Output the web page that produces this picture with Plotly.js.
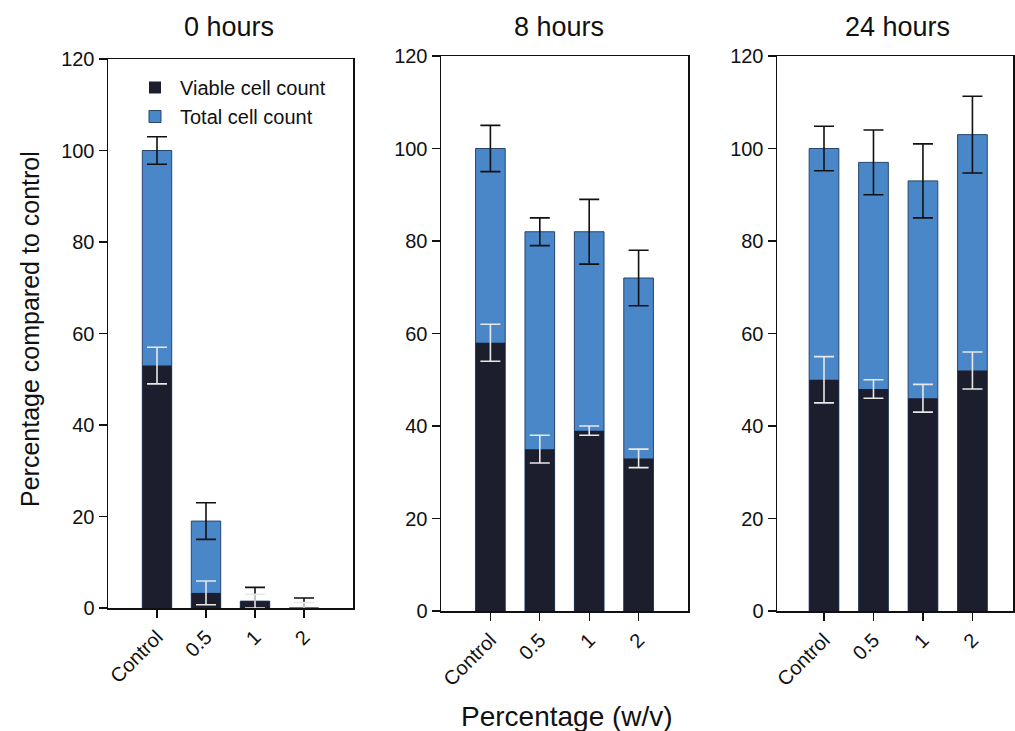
<!DOCTYPE html>
<html>
<head>
<meta charset="utf-8">
<script src="https://cdn.plot.ly/plotly-3.0.1.min.js"></script>
<style>html,body{margin:0;padding:0;background:#fff;}#chart{width:1015px;height:731px;}</style>
</head>
<body>
<div id="chart"></div>
<script>
const categories = ['Control', '0.5', '1', '2'];
const panelTitles = ['0 hours', '8 hours', '24 hours'];

const viable0 = [53, 3.3, 1.5, 0];
const viableErr0 = [4, 2.6, 1.5, 1.2];
const total0 = [100, 19, 1.5, 0];
const totalErr0 = [3, 4, 3, 2.2];

const viable8 = [58, 35, 39, 33];
const viableErr8 = [4, 3, 1, 2];
const total8 = [100, 82, 82, 72];
const totalErr8 = [5, 3, 7, 6];

const viable24 = [50, 48, 46, 52];
const viableErr24 = [5, 2, 3, 4];
const total24 = [100, 97, 93, 103];
const totalErr24 = [4.8, 7, 8, 8.3];

const W = 1015, H = 731;
const FONT = 'Arial, "Liberation Sans", sans-serif';
const BLUE = '#4a87c9';
const DARK = '#1c1e2e';

const panels = [
  {viable: viable0, vErr: viableErr0, total: total0, tErr: totalErr0, x0: 108, x1: 353, top: 59, bot: 608, range: [-1, 4], tx: 229},
  {viable: viable8, vErr: viableErr8, total: total8, tErr: totalErr8, x0: 441, x1: 688, top: 56, bot: 611, range: [-1, 4], tx: 559},
  {viable: viable24, vErr: viableErr24, total: total24, tErr: totalErr24, x0: 777, x1: 1013, top: 56, bot: 611, range: [-0.95, 3.82], tx: 897}
];

const data = [];
const layout = {
  width: W, height: H,
  margin: {l: 0, r: 0, t: 0, b: 0},
  paper_bgcolor: '#fff', plot_bgcolor: '#fff',
  barmode: 'overlay',
  font: {family: FONT, color: '#111', size: 20},
  showlegend: true,
  legend: {
    x: 130 / W, y: 1 - 68 / H, xanchor: 'left', yanchor: 'top',
    bgcolor: 'rgba(255,255,255,0)', borderwidth: 0,
    font: {family: FONT, size: 20, color: '#111'},
    tracegroupgap: 0, itemwidth: 40
  },
  annotations: [],
  shapes: []
};

panels.forEach((p, i) => {
  const n = i + 1;
  const xa = n === 1 ? 'x' : 'x' + n;
  const ya = n === 1 ? 'y' : 'y' + n;
  data.push({
    type: 'bar', x: categories, y: p.total, xaxis: xa, yaxis: ya,
    name: 'Total cell count', legendgroup: 'total', showlegend: i === 0, legendrank: 2,
    width: 0.6,
    marker: {color: BLUE, line: {color: '#27456e', width: 1}},
    error_y: {type: 'data', array: p.tErr, visible: true, color: '#111', thickness: 1.6, width: 10}
  });
  data.push({
    type: 'bar', x: categories, y: p.viable, xaxis: xa, yaxis: ya,
    name: 'Viable cell count', legendgroup: 'viable', showlegend: i === 0, legendrank: 1,
    width: 0.6,
    marker: {color: DARK, line: {color: DARK, width: 0}},
    error_y: {type: 'data', array: p.vErr, visible: true, color: '#e8e8e8', thickness: 1.6, width: 10}
  });
  const xKey = n === 1 ? 'xaxis' : 'xaxis' + n;
  const yKey = n === 1 ? 'yaxis' : 'yaxis' + n;
  layout[xKey] = {
    domain: [p.x0 / W, p.x1 / W], anchor: ya, type: 'category',
    range: p.range, showgrid: false, zeroline: false,
    showline: true, linecolor: '#111', linewidth: 1.5, mirror: true,
    ticks: 'outside', ticklen: 8, tickcolor: '#111', tickwidth: 1.2,
    tickangle: -45, tickfont: {family: FONT, size: 20, color: '#111'},
    automargin: false
  };
  layout[yKey] = {
    domain: [(H - p.bot) / H, (H - p.top) / H], anchor: xa,
    range: [0, 120], tickvals: [0, 20, 40, 60, 80, 100, 120],
    showgrid: false, zeroline: false,
    showline: true, linecolor: '#111', linewidth: 1.5, mirror: true,
    ticks: 'outside', ticklen: 8, tickcolor: '#111', tickwidth: 1.2,
    tickfont: {family: FONT, size: 20, color: '#111'},
    automargin: false
  };
  layout.annotations.push({
    text: panelTitles[i], xref: 'paper', yref: 'paper',
    x: p.tx / W, y: 1 - 27 / H,
    xanchor: 'center', yanchor: 'middle', showarrow: false,
    font: {family: FONT, size: 27, color: '#111'}
  });
});

layout.annotations.push({
  text: 'Percentage compared to control', xref: 'paper', yref: 'paper',
  x: 30 / W, y: 1 - 329 / H, textangle: -90, showarrow: false,
  xanchor: 'center', yanchor: 'middle',
  font: {family: FONT, size: 25, color: '#111'}
});
layout.annotations.push({
  text: 'Percentage (w/v)', xref: 'paper', yref: 'paper',
  x: 567 / W, y: 1 - 716 / H, showarrow: false,
  xanchor: 'center', yanchor: 'middle',
  font: {family: FONT, size: 28, color: '#111'}
});

Plotly.newPlot('chart', data, layout, {displayModeBar: false, staticPlot: true});
</script>
</body>
</html>
